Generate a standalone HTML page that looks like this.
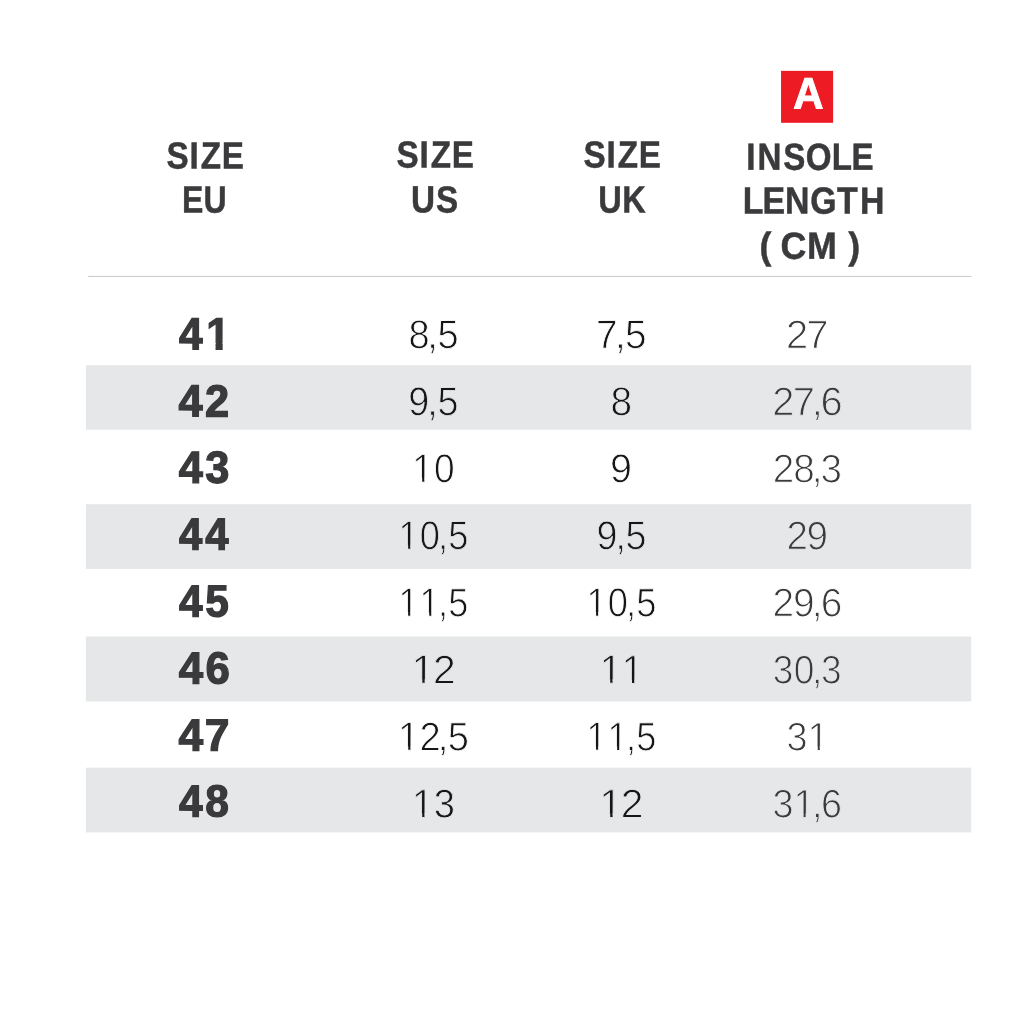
<!DOCTYPE html>
<html lang="en">
<head>
<meta charset="utf-8">
<title>Size chart</title>
<style>
*{margin:0;padding:0;box-sizing:border-box}
html,body{width:1028px;height:1028px;overflow:hidden;background:#ffffff}
svg{position:absolute;left:0;top:0;display:block}
text{font-family:"Liberation Sans",sans-serif;font-kerning:none;font-variant-ligatures:none;white-space:pre;stroke-linejoin:miter}
.h{font-weight:bold;font-size:37.8px;fill:#3a3a3c;stroke:#3a3a3c;stroke-width:0.5px}
.e{font-weight:bold;font-size:45.0px;fill:#3a3a3c;stroke:#3a3a3c;stroke-width:1.3px}
.us,.uk,.in{font-weight:normal;stroke:#ffffff}
.z{stroke:#e6e7e8}
.us{font-size:40.3px;fill:#161618;stroke-width:0.85px}
.uk{font-size:40.3px;fill:#161618;stroke-width:0.85px}
.in{font-size:40.1px;fill:#3a3a3c;stroke-width:1.0px}
.a{font-weight:bold;font-size:44.0px;fill:#fff;stroke:#fff;stroke-width:1.0px}
</style>
</head>
<body>
<svg width="1028" height="1028" viewBox="0 0 1028 1028">
<clipPath id="ceu0"><rect x="-200" y="-200" width="600" height="193.56"/><rect x="-200.00" y="-7.94" width="229.90" height="60"/><rect x="38.77" y="-7.94" width="7.47" height="60"/><rect x="54.54" y="-7.94" width="345.46" height="60"/></clipPath>
<clipPath id="cus2"><rect x="-200" y="-200" width="600" height="195.79"/><rect x="-200.00" y="-5.71" width="201.44" height="60"/><rect x="10.76" y="-5.71" width="2.31" height="60"/><rect x="22.07" y="-5.71" width="377.93" height="60"/></clipPath>
<clipPath id="cus3"><rect x="-200" y="-200" width="600" height="195.79"/><rect x="-200.00" y="-5.71" width="201.44" height="60"/><rect x="10.76" y="-5.71" width="2.31" height="60"/><rect x="22.07" y="-5.71" width="377.93" height="60"/></clipPath>
<clipPath id="cus4"><rect x="-200" y="-200" width="600" height="195.79"/><rect x="-200.00" y="-5.71" width="201.44" height="60"/><rect x="10.76" y="-5.71" width="2.31" height="60"/><rect x="22.07" y="-5.71" width="2.97" height="60"/><rect x="34.35" y="-5.71" width="2.31" height="60"/><rect x="45.67" y="-5.71" width="354.33" height="60"/></clipPath>
<clipPath id="cus5"><rect x="-200" y="-200" width="600" height="195.79"/><rect x="-200.00" y="-5.71" width="201.44" height="60"/><rect x="10.76" y="-5.71" width="2.31" height="60"/><rect x="22.07" y="-5.71" width="377.93" height="60"/></clipPath>
<clipPath id="cus6"><rect x="-200" y="-200" width="600" height="195.79"/><rect x="-200.00" y="-5.71" width="201.44" height="60"/><rect x="10.76" y="-5.71" width="2.31" height="60"/><rect x="22.07" y="-5.71" width="377.93" height="60"/></clipPath>
<clipPath id="cus7"><rect x="-200" y="-200" width="600" height="195.79"/><rect x="-200.00" y="-5.71" width="201.44" height="60"/><rect x="10.76" y="-5.71" width="2.31" height="60"/><rect x="22.07" y="-5.71" width="377.93" height="60"/></clipPath>
<clipPath id="cuk4"><rect x="-200" y="-200" width="600" height="195.79"/><rect x="-200.00" y="-5.71" width="201.44" height="60"/><rect x="10.76" y="-5.71" width="2.31" height="60"/><rect x="22.07" y="-5.71" width="377.93" height="60"/></clipPath>
<clipPath id="cuk5"><rect x="-200" y="-200" width="600" height="195.79"/><rect x="-200.00" y="-5.71" width="201.44" height="60"/><rect x="10.76" y="-5.71" width="2.31" height="60"/><rect x="22.07" y="-5.71" width="1.68" height="60"/><rect x="33.06" y="-5.71" width="2.31" height="60"/><rect x="44.37" y="-5.71" width="355.63" height="60"/></clipPath>
<clipPath id="cuk6"><rect x="-200" y="-200" width="600" height="195.79"/><rect x="-200.00" y="-5.71" width="201.44" height="60"/><rect x="10.76" y="-5.71" width="2.31" height="60"/><rect x="22.07" y="-5.71" width="2.97" height="60"/><rect x="34.35" y="-5.71" width="2.31" height="60"/><rect x="45.67" y="-5.71" width="354.33" height="60"/></clipPath>
<clipPath id="cuk7"><rect x="-200" y="-200" width="600" height="195.79"/><rect x="-200.00" y="-5.71" width="201.44" height="60"/><rect x="10.76" y="-5.71" width="2.31" height="60"/><rect x="22.07" y="-5.71" width="377.93" height="60"/></clipPath>
<clipPath id="cin6"><rect x="-200" y="-200" width="600" height="195.80"/><rect x="-200.00" y="-5.70" width="223.71" height="60"/><rect x="33.14" y="-5.70" width="2.14" height="60"/><rect x="44.40" y="-5.70" width="355.60" height="60"/></clipPath>
<clipPath id="cin7"><rect x="-200" y="-200" width="600" height="195.80"/><rect x="-200.00" y="-5.70" width="223.53" height="60"/><rect x="32.96" y="-5.70" width="2.14" height="60"/><rect x="44.22" y="-5.70" width="355.78" height="60"/></clipPath>
<rect x="85.9" y="365.2" width="885.3" height="64.5" fill="#e6e7e8"/>
<rect x="85.9" y="504.2" width="885.3" height="64.7" fill="#e6e7e8"/>
<rect x="85.9" y="636.5" width="885.3" height="65.0" fill="#e6e7e8"/>
<rect x="85.9" y="767.7" width="885.3" height="64.7" fill="#e6e7e8"/>
<rect x="88.2" y="275.9" width="883.3" height="1.0" fill="#c6c7c8"/>
<rect x="781.05" y="70.85" width="52.05" height="51.95" fill="#ed1c24"/>
<text class="h" transform="translate(166.41 168.38) rotate(0.1) scale(0.8781 1)" x="0 26.32 39.11 62.94" y="0">SIZE</text>
<text class="h" transform="translate(182.02 212.46) rotate(0.1) scale(0.8462 1)" x="0 25.42" y="0">EU</text>
<text class="h" transform="translate(396.41 167.48) rotate(0.1) scale(0.8781 1)" x="0 26.32 39.11 62.94" y="0">SIZE</text>
<text class="h" transform="translate(411.11 212.36) rotate(0.1) scale(0.8784 1)" x="0 28.24" y="0">US</text>
<text class="h" transform="translate(583.41 167.48) rotate(0.1) scale(0.8781 1)" x="0 26.32 39.11 62.94" y="0">SIZE</text>
<text class="h" transform="translate(598.21 212.46) rotate(0.1) scale(0.8600 1)" x="0 28.08" y="0">UK</text>
<text class="h" transform="translate(746.14 169.64) rotate(0.1) scale(0.8759 1)" x="0 12.94 42.41 68.05 97.77 120.43" y="0">INSOLE</text>
<text class="h" transform="translate(742.71 213.43) rotate(0.1) scale(0.8948 1)" x="0 22.12 47.23 75.39 105.47 131.05" y="0">LENGTH</text>
<text class="h" transform="translate(759.39 258.66) rotate(0.1) scale(0.9474 1)" x="0 18.9 22.2 50.19 69.09 93.77" y="0">( CM )</text>
<text class="e" transform="translate(179.07 349.31) rotate(0.1) scale(0.9418 1)" x="0 28.91" y="0" clip-path="url(#ceu0)">41</text>
<text class="e" transform="translate(178.60 416.36) rotate(0.1) scale(0.9645 1)" x="0 27.27" y="0">42</text>
<text class="e" transform="translate(178.71 482.71) rotate(0.1) scale(0.9619 1)" x="0 27.55" y="0">43</text>
<text class="e" transform="translate(179.07 549.46) rotate(0.1) scale(0.9303 1)" x="0 28.23" y="0">44</text>
<text class="e" transform="translate(178.94 616.41) rotate(0.1) scale(0.9410 1)" x="0 28" y="0">45</text>
<text class="e" transform="translate(178.63 683.51) rotate(0.1) scale(0.9718 1)" x="0 27.74" y="0">46</text>
<text class="e" transform="translate(178.43 750.56) rotate(0.1) scale(0.9851 1)" x="0 26.68" y="0">47</text>
<text class="e" transform="translate(178.91 816.56) rotate(0.1) scale(0.9422 1)" x="0 28.06" y="0">48</text>
<text class="us" transform="translate(408.53 348.18) rotate(0.1) scale(0.9412 1)" x="0 19.93 30.76" y="0">8,5</text>
<text class="us z" transform="translate(408.36 415.21) rotate(0.1) scale(0.9351 1)" x="0 20.3 31.21" y="0">9,5</text>
<text class="us" transform="translate(412.29 482.25) rotate(0.1) scale(0.9193 1)" x="0 23.65" y="0" clip-path="url(#cus2)">10</text>
<text class="us z" transform="translate(398.49 549.26) rotate(0.1) scale(0.8976 1)" x="0 23.77 44.13 55.41" y="0" clip-path="url(#cus3)">10,5</text>
<text class="us" transform="translate(398.53 616.29) rotate(0.1) scale(0.8933 1)" x="0 23.6 44.32 55.68" y="0" clip-path="url(#cus4)">11,5</text>
<text class="us z" transform="translate(411.44 683.34) rotate(0.1) scale(1.0111 1)" x="0 21.24" y="0" clip-path="url(#cus5)">12</text>
<text class="us" transform="translate(398.06 750.34) rotate(0.1) scale(0.9462 1)" x="0 22.62 42.02 52.43" y="0" clip-path="url(#cus6)">12,5</text>
<text class="us z" transform="translate(412.05 817.40) rotate(0.1) scale(0.9473 1)" x="0 22.79" y="0" clip-path="url(#cus7)">13</text>
<text class="uk" transform="translate(596.06 348.18) rotate(0.1) scale(0.9595 1)" x="0 19.74 30.04" y="0">7,5</text>
<text class="uk z" transform="translate(610.40 415.24) rotate(0.1) scale(0.9634 1)" x="0" y="0">8</text>
<text class="uk" transform="translate(610.03 482.27) rotate(0.1) scale(0.9794 1)" x="0" y="0">9</text>
<text class="uk z" transform="translate(596.47 549.27) rotate(0.1) scale(0.9331 1)" x="0 20.3 31.21" y="0">9,5</text>
<text class="uk" transform="translate(586.39 616.29) rotate(0.1) scale(0.8990 1)" x="0 23.77 44.13 55.41" y="0" clip-path="url(#cuk4)">10,5</text>
<text class="uk z" transform="translate(599.76 683.34) rotate(0.1) scale(0.9750 1)" x="0 22.3" y="0" clip-path="url(#cuk5)">11</text>
<text class="uk" transform="translate(586.42 750.35) rotate(0.1) scale(0.8947 1)" x="0 23.6 44.32 55.68" y="0" clip-path="url(#cuk6)">11,5</text>
<text class="uk z" transform="translate(599.34 817.40) rotate(0.1) scale(1.0111 1)" x="0 21.24" y="0" clip-path="url(#cuk7)">12</text>
<text class="in" transform="translate(786.03 348.27) rotate(0.1) scale(0.9959 1)" x="0 20.19" y="0">27</text>
<text class="in z" transform="translate(772.32 415.27) rotate(0.1) scale(0.9932 1)" x="0 20.63 39.67 48.58" y="0">27,6</text>
<text class="in" transform="translate(772.63 482.30) rotate(0.1) scale(0.9641 1)" x="0 21.49 40.64 49.72" y="0">28,3</text>
<text class="in z" transform="translate(786.43 549.36) rotate(0.1) scale(0.9627 1)" x="0 20.94" y="0">29</text>
<text class="in" transform="translate(772.60 616.36) rotate(0.1) scale(0.9686 1)" x="0 21.15 40.54 49.82" y="0">29,6</text>
<text class="in z" transform="translate(772.71 683.39) rotate(0.1) scale(0.9241 1)" x="0 22.75 42.53 52.26" y="0">30,3</text>
<text class="in" transform="translate(786.49 750.45) rotate(0.1) scale(0.9429 1)" x="0 22.35" y="0" clip-path="url(#cin6)">31</text>
<text class="in z" transform="translate(772.51 817.45) rotate(0.1) scale(0.9428 1)" x="0 22.18 41.86 51.57" y="0" clip-path="url(#cin7)">31,6</text>
<text class="a" transform="translate(793.33 108.57) rotate(0.1) scale(0.9502 1)" x="0" y="0">A</text>
</svg>
</body>
</html>
